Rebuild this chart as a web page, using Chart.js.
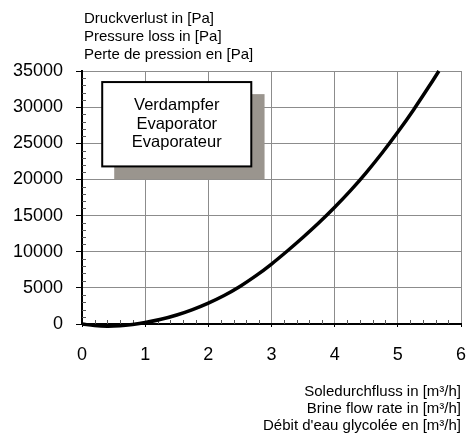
<!DOCTYPE html>
<html>
<head>
<meta charset="utf-8">
<script src="https://cdn.jsdelivr.net/npm/chart.js@4.4.0/dist/chart.umd.min.js"></script>
<style>
    html, body { margin: 0; padding: 0; background: #fff; }
    #wrap { width: 469px; height: 440px; }
</style>
</head>
<body>
<div id="wrap"><canvas id="canvas" width="469" height="440"></canvas></div>
<script>
// flow rate in m3/h
var flow = [0, 0.2, 0.4, 0.6, 0.8, 1.0, 1.25, 1.5, 1.75, 2.0, 2.25, 2.5, 2.75, 3.0, 3.25, 3.5, 3.75, 4.0, 4.25, 4.5, 4.75, 5.0, 5.25, 5.5, 5.65];
// pressure loss in Pa
var loss = [0, -220, -300, -240, -60, 200, 650, 1250, 2000, 2900, 3950, 5200, 6650, 8300, 10100, 12000, 14000, 16150, 18450, 20950, 23650, 26550, 29650, 32950, 35000];

var xTicks = [0, 1, 2, 3, 4, 5, 6];
var yTicks = [0, 5000, 10000, 15000, 20000, 25000, 30000, 35000];

var yTitle = ['Druckverlust in [Pa]', 'Pressure loss in [Pa]', 'Perte de pression en [Pa]'];
var xTitle = ['Soledurchfluss in [m\u00b3/h]', 'Brine flow rate in [m\u00b3/h]', 'D\u00e9bit d\'eau glycol\u00e9e en [m\u00b3/h]'];
var boxText = ['Verdampfer', 'Evaporator', 'Evaporateur'];

// label box corners in data units: [x0, y0, x1, y1]
var boxRect = [0.32, 33470, 2.68, 21800];
var shadowRect = [0.51, 31800, 2.89, 20000];

var FONT = 'Arial, "Liberation Sans", sans-serif';

var points = flow.map(function(f, i) {
    return { x: f, y: loss[i] };
});

var decorPlugin = {
    id: 'decor',
    beforeDatasetsDraw: function(chart) {
        var ctx = chart.ctx;
        var xs = chart.scales.x, ys = chart.scales.y;
        var area = chart.chartArea;
        ctx.save();

        // minor ticks on the inside of both axes
        ctx.strokeStyle = '#555';
        ctx.lineWidth = 1;
        ctx.beginPath();
        for (var v = 1000; v < 35000; v += 1000) {
            if (v % 5000 === 0) continue;
            var py = Math.round(ys.getPixelForValue(v)) + 0.5;
            ctx.moveTo(area.left, py);
            ctx.lineTo(area.left + 4, py);
        }
        for (var k = 1; k < 30; k++) {
            if (k % 5 === 0) continue;
            var px = Math.round(xs.getPixelForValue(k * 0.2)) + 0.5;
            ctx.moveTo(px, area.bottom);
            ctx.lineTo(px, area.bottom - 4);
        }
        ctx.stroke();

        // shadow and label box
        var sx0 = xs.getPixelForValue(shadowRect[0]), sy0 = ys.getPixelForValue(shadowRect[1]);
        var sx1 = xs.getPixelForValue(shadowRect[2]), sy1 = ys.getPixelForValue(shadowRect[3]);
        ctx.fillStyle = '#9a958e';
        ctx.fillRect(sx0, sy0, sx1 - sx0, sy1 - sy0);

        var bx0 = xs.getPixelForValue(boxRect[0]), by0 = ys.getPixelForValue(boxRect[1]);
        var bx1 = xs.getPixelForValue(boxRect[2]), by1 = ys.getPixelForValue(boxRect[3]);
        ctx.fillStyle = '#fff';
        ctx.fillRect(bx0, by0, bx1 - bx0, by1 - by0);
        ctx.strokeStyle = '#000';
        ctx.lineWidth = 2;
        ctx.strokeRect(bx0, by0, bx1 - bx0, by1 - by0);

        ctx.fillStyle = '#000';
        ctx.font = '16.5px ' + FONT;
        ctx.textAlign = 'center';
        ctx.textBaseline = 'middle';
        var cx = (bx0 + bx1) / 2, cy = (by0 + by1) / 2;
        boxText.forEach(function(t, i) {
            ctx.fillText(t, cx, cy + (i - 1) * 18.3);
        });
        ctx.restore();
    },
    afterDraw: function(chart) {
        // y axis caption above the plot, written horizontally
        var ctx = chart.ctx;
        ctx.save();
        ctx.fillStyle = '#000';
        ctx.font = '15px ' + FONT;
        ctx.textAlign = 'left';
        ctx.textBaseline = 'middle';
        yTitle.forEach(function(t, i) {
            ctx.fillText(t, chart.chartArea.left + 2, 18.5 + i * 18.3);
        });
        ctx.restore();
    }
};

new Chart(document.getElementById('canvas').getContext('2d'), {
    type: 'scatter',
    data: {
        datasets: [{
            data: points,
            showLine: true,
            borderColor: '#000',
            borderWidth: 3.5,
            pointRadius: 0,
            tension: 0.4,
            fill: false,
            clip: { left: 0, top: 3, right: 0, bottom: 6 }
        }]
    },
    options: {
        responsive: false,
        animation: false,
        events: [],
        layout: { padding: { top: 71, left: 0, right: 8, bottom: 0 } },
        plugins: {
            legend: { display: false },
            tooltip: { enabled: false },
            title: { display: false }
        },
        scales: {
            x: {
                type: 'linear',
                min: 0,
                max: 6,
                afterFit: function(scale) {
                    scale.height = 116;
                    scale.paddingLeft = 0;
                    scale.paddingRight = 0;
                },
                afterBuildTicks: function(scale) {
                    scale.ticks = xTicks.map(function(v) { return { value: v }; });
                },
                ticks: {
                    color: '#000',
                    font: { family: FONT, size: 18 },
                    padding: 17,
                    maxRotation: 0
                },
                grid: { color: '#8c8c8c', lineWidth: 1, tickLength: 3, tickColor: '#000' },
                border: { color: '#000', width: 2 },
                title: {
                    display: true,
                    text: xTitle,
                    align: 'end',
                    color: '#000',
                    font: { family: FONT, size: 15, lineHeight: '17px' },
                    padding: { top: 0, bottom: 6 }
                }
            },
            y: {
                type: 'linear',
                min: 0,
                max: 35000,
                afterFit: function(scale) {
                    scale.width = 82;
                    scale.paddingTop = 0;
                    scale.paddingBottom = 0;
                },
                afterBuildTicks: function(scale) {
                    scale.ticks = yTicks.map(function(v) { return { value: v }; });
                },
                ticks: {
                    color: '#000',
                    font: { family: FONT, size: 18 },
                    padding: 13,
                    callback: function(v) { return String(v); }
                },
                grid: { color: '#8c8c8c', lineWidth: 1, tickLength: 6, tickColor: '#000' },
                border: { color: '#000', width: 2 }
            }
        }
    },
    plugins: [decorPlugin]
});
</script>
</body>
</html>
